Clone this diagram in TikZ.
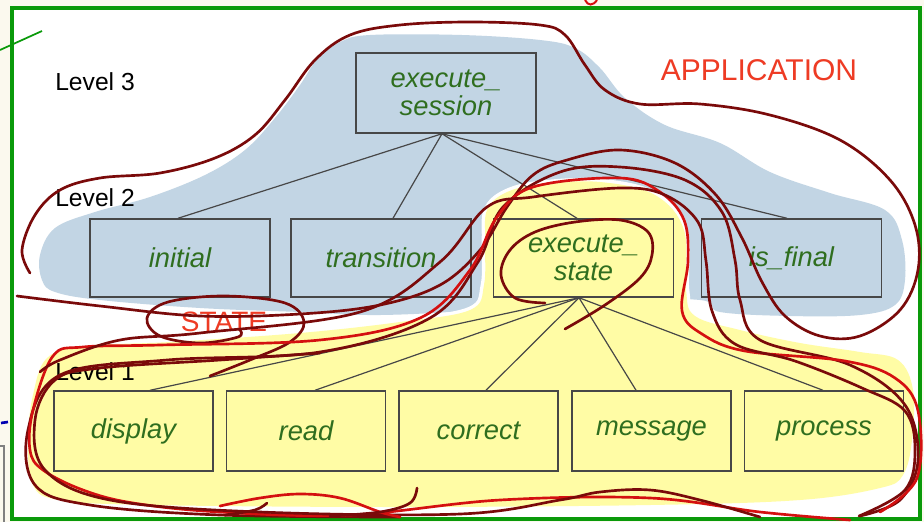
\documentclass[tikz,border=0pt]{standalone}
\usepackage{fontspec}
\setmainfont{Liberation Sans}
\usetikzlibrary{calc}
\definecolor{bgcream}{HTML}{FBF9EE}
\definecolor{blobblue}{HTML}{C2D5E4}
\definecolor{blobyellow}{HTML}{FFFCA5}
\definecolor{txtgreen}{HTML}{2F6E1F}
\definecolor{boxline}{HTML}{474747}
\definecolor{appred}{HTML}{EE3B24}
\definecolor{penmaroon}{HTML}{7A0A0A}
\definecolor{penred}{HTML}{D41010}
\definecolor{framegreen}{HTML}{0A9A0A}
\tikzset{
  modbox/.style={draw=boxline, line width=1.1pt, minimum width=135pt, minimum height=58.5pt,
     inner sep=0pt, font=\fontsize{20.5}{24}\selectfont\itshape, text=txtgreen, align=center},
  lowbox/.style={modbox, fill=blobyellow, minimum width=119pt, minimum height=60pt},
  levellabel/.style={anchor=west, font=\fontsize{18.5}{22}\selectfont, text=black, inner sep=0pt},
  tree/.style={draw=boxline, line width=0.9pt},
  pen/.style={draw=penmaroon, line width=2pt, line cap=round, line join=round},
  redpen/.style={draw=penred, line width=2pt, line cap=round, line join=round}
}
\begin{document}
\begin{tikzpicture}[x=0.75pt, y=-0.75pt]
\useasboundingbox (0,0) rectangle (924,522);
\fill[bgcream] (0,0) rectangle (924,522);
\fill[white] (12,8) rectangle (920,519);
% outside marks
\draw[framegreen, line width=1.3pt] (0,50) -- (42,31);
\draw[blue!70!black, line width=2pt] (1,423) -- (8,422);
\draw[gray, line width=0.8pt] (0,446) -- (4,446) -- (4,522);
\draw[penred, line width=1.5pt] (585,0) .. controls (588,6) and (593,6) .. (597,0);
% blobs
\fill[blobblue] plot[smooth cycle, tension=0.6] coordinates {
 (40,255) (55,228) (95,212) (150,197) (205,175) (245,150) (275,118) (300,85) (318,58)
 (340,42) (370,35) (462,35) (540,40) (575,48) (600,68) (625,98) (665,125) (720,143)
 (770,172) (830,193) (885,210) (902,240) (905,280) (895,305) (860,315) (790,316)
 (720,312) (700,300) (600,300) (480,310) (380,315) (300,312) (200,308) (100,300)
 (55,292) (42,280)};
\filldraw[fill=blobyellow, draw=white, line width=5pt] plot[smooth cycle, tension=0.6] coordinates {
 (487,210) (505,193) (540,184) (600,182) (655,195) (684,230) (686,290) (695,316)
 (740,330) (800,343) (860,352) (898,360) (913,390) (912,440) (903,475) (880,488)
 (800,500) (650,505) (400,507) (150,505) (60,500) (33,485) (28,440) (33,395)
 (47,358) (85,346) (170,342) (300,333) (400,322) (470,310) (484,285) (485,240)};
\fill[blobyellow] plot[smooth cycle, tension=0.6] coordinates {
 (487,210) (505,193) (540,184) (600,182) (655,195) (684,230) (686,290) (695,316)
 (740,330) (800,343) (860,352) (898,360) (913,390) (912,440) (903,475) (880,488)
 (800,500) (650,505) (400,507) (150,505) (60,500) (33,485) (28,440) (33,395)
 (47,358) (85,346) (170,342) (300,333) (400,322) (470,310) (484,285) (485,240)};
% labels
\node[levellabel] (l3) at (55,82) {Level 3};
\node[levellabel] (l2) at (55,198) {Level 2};
\node[levellabel] (l1) at (55,372) {Level 1};
\node[font=\fontsize{22.5}{26}\selectfont, text=appred, inner sep=0pt] (app) at (759,70) {APPLICATION};
\node[font=\fontsize{21}{24}\selectfont, text=appred, inner sep=0pt] (st) at (224,322) {STATE};
% boxes
\node[modbox, minimum height=60pt] (sess) at (446,93) {execute\_\\[-3pt]session};
\node[modbox] (init) at (180,258) {initial};
\node[modbox] (trans) at (381,258) {transition};
\node[modbox] (exst) at (583.5,258) {execute\_\\[-3pt]state};
\node[modbox] (isfin) at (791.5,258) {is\_final};
\node[lowbox] (disp) at (133.5,431) {display};
\node[lowbox] (read) at (306,431) {read};
\node[lowbox] (corr) at (478.5,431) {correct};
\node[lowbox] (mess) at (651.5,431) {message};
\node[lowbox] (proc) at (824,431) {process};
% tree connectors
\coordinate (sb) at ([xshift=-3pt]sess.south);
\draw[tree] (sb) -- ([xshift=-1.5pt]init.north);
\draw[tree] (sb) -- ([xshift=9pt]trans.north);
\draw[tree] (sb) -- ([xshift=-4.9pt]exst.north);
\draw[tree] (sb) -- ([xshift=-3.4pt]isfin.north);
\coordinate (eb) at ([xshift=-3.4pt]exst.south);
\draw[tree] (eb) -- ([xshift=12.4pt]disp.north);
\draw[tree] (eb) -- ([xshift=6.75pt]read.north);
\draw[tree] (eb) -- ([xshift=5.6pt]corr.north);
\draw[tree] (eb) -- ([xshift=-11.6pt]mess.north);
\draw[tree] (eb) -- ([xshift=-0.75pt]proc.north);
% frame
\draw[framegreen, line width=3pt] (12,8) rectangle (920,519);
% hand-drawn strokes
\draw[pen] plot[smooth, tension=0.6] coordinates {
 (30,273) (22,250) (35,215) (60,190) (100,178) (160,173) (215,158) (255,135) (285,100)
 (315,60) (350,35) (400,25) (470,22) (540,25) (565,35) (585,65) (605,90) (640,104)
 (700,104) (770,115) (840,140) (890,180) (915,225) (918,270) (900,310) (860,336)
 (820,336) (785,316) (762,282) (742,238) (716,195) (675,163) (620,150) (567,160)
 (533,175) (507,207) (480,250) (440,285) (380,305) (300,314) (200,316) (100,306) (17,296)};
\draw[pen] plot[smooth, tension=0.6] coordinates {
 (240,330) (238,337) (200,343) (160,336) (147,318) (168,302) (225,296) (285,303)
 (304,322) (290,342) (250,360) (210,376)};
\draw[pen] plot[smooth, tension=0.6] coordinates {
 (545,303) (515,298) (501,275) (510,250) (535,232) (575,222) (620,220) (648,232)
 (652,255) (640,278) (605,305) (565,329)};
\draw[pen] plot[smooth, tension=0.6] coordinates {
 (860,516) (900,500) (918,460) (905,405) (850,365) (760,340) (740,300) (735,260)
 (722,212) (685,180) (620,167) (560,172) (503,207) (478,262) (430,318) (320,352)
 (167,360) (60,375) (28,430) (35,485) (90,505) (220,515) (400,517)};
\draw[redpen] plot[smooth, tension=0.6] coordinates {
 (880,512) (917,478) (918,411) (895,378) (845,361) (745,351) (702,334) (682,311)
 (688,261) (684,220) (660,192) (620,178) (533,187) (497,217) (470,270) (420,318)
 (320,340) (160,345) (83,347) (53,356) (33,410) (30,450) (43,470) (83,490) (133,503)
 (220,512) (350,515) (500,500) (650,498) (760,512) (850,520)};
\draw[pen] plot[smooth, tension=0.6] coordinates {
 (859,516) (905,490) (915,450) (905,411) (862,388) (795,361) (735,344) (712,311)
 (706,261) (698,222) (665,195) (620,188) (533,197) (487,207) (440,262) (360,312)
 (200,333) (120,340) (60,360) (40,372)};
\draw[pen] plot[smooth, tension=0.6] coordinates {
 (320,353) (220,360) (100,368) (55,380) (35,420) (45,470) (110,500) (260,512) (460,514)
 (560,500) (600,492) (650,490) (700,500) (760,517)};
\draw[redpen] plot[smooth, tension=0.6] coordinates {(220,506) (260,498) (300,494) (340,498) (380,512) (400,517)};
\draw[pen] plot[smooth, tension=0.6] coordinates {(267,503) (255,510) (225,515)};
\draw[pen] plot[smooth, tension=0.6] coordinates {(417,488) (410,503) (380,512) (330,516)};
\end{tikzpicture}
\end{document}
